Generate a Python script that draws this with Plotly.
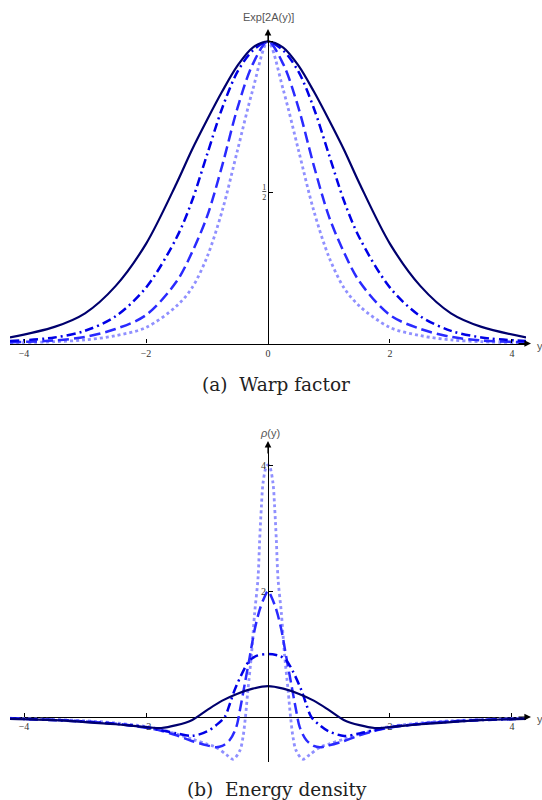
import plotly.graph_objects as go

# ---- (a) warp factor Exp[2A(y)] ----
y_warp = [-4.23, -3.5, -3, -2.5, -2, -1.5, -1.25, -1, -0.75, -0.5, -0.25, 0,
          0.25, 0.5, 0.75, 1, 1.25, 1.5, 2, 2.5, 3, 3.5, 4.23]
warp_solid = [0.02, 0.055, 0.10, 0.19, 0.33, 0.53, 0.64, 0.74, 0.835, 0.92, 0.98, 1.0,
              0.98, 0.92, 0.835, 0.74, 0.64, 0.53, 0.33, 0.19, 0.10, 0.055, 0.02]
warp_dashdot = [0.008, 0.02, 0.042, 0.09, 0.185, 0.35, 0.47, 0.625, 0.78, 0.90, 0.97, 1.0,
                0.97, 0.90, 0.78, 0.625, 0.47, 0.35, 0.185, 0.09, 0.042, 0.02, 0.008]
warp_dash = [0.004, 0.01, 0.022, 0.048, 0.094, 0.205, 0.30, 0.42, 0.59, 0.78, 0.925, 1.0,
             0.925, 0.78, 0.59, 0.42, 0.30, 0.205, 0.094, 0.048, 0.022, 0.01, 0.004]
warp_dot = [0.002, 0.006, 0.012, 0.026, 0.053, 0.124, 0.183, 0.286, 0.44, 0.64, 0.84, 1.0,
            0.84, 0.64, 0.44, 0.286, 0.183, 0.124, 0.053, 0.026, 0.012, 0.006, 0.002]

# ---- (b) energy density rho(y) ----
y_rho_solid = [-4.23, -3.5, -3, -2.5, -2, -1.75, -1.5, -1.25, -1, -0.75, -0.5, -0.25, 0,
               0.25, 0.5, 0.75, 1, 1.25, 1.5, 1.75, 2, 2.5, 3, 3.5, 4.23]
rho_solid = [-0.03, -0.05, -0.08, -0.115, -0.16, -0.175, -0.13, -0.05, 0.11, 0.26, 0.37, 0.45, 0.49,
             0.45, 0.37, 0.26, 0.11, -0.05, -0.13, -0.175, -0.16, -0.115, -0.08, -0.05, -0.03]

y_rho_dashdot = [-4.23, -3.5, -3, -2.5, -2, -1.75, -1.5, -1.25, -1, -0.85, -0.71, -0.625, -0.55,
                 -0.4, -0.3, -0.19, 0, 0.19, 0.3, 0.4, 0.55, 0.625, 0.71, 0.85, 1, 1.25, 1.5,
                 1.75, 2, 2.5, 3, 3.5, 4.23]
rho_dashdot = [-0.025, -0.05, -0.075, -0.11, -0.16, -0.21, -0.26, -0.30, -0.23, -0.13, 0.0, 0.21, 0.42,
               0.74, 0.90, 0.97, 1.0, 0.97, 0.90, 0.74, 0.42, 0.21, 0.0, -0.13, -0.23, -0.30, -0.26,
               -0.21, -0.16, -0.11, -0.075, -0.05, -0.025]

y_rho_dash = [-4.23, -3.5, -3, -2.5, -2, -1.75, -1.5, -1.25, -1, -0.85, -0.75, -0.63, -0.52, -0.46,
              -0.38, -0.30, -0.22, -0.137, -0.055, 0, 0.055, 0.137, 0.22, 0.30, 0.38, 0.46, 0.52,
              0.63, 0.75, 0.85, 1, 1.25, 1.5, 1.75, 2, 2.5, 3, 3.5, 4.23]
rho_dash = [-0.025, -0.045, -0.07, -0.105, -0.17, -0.22, -0.29, -0.38, -0.45, -0.48, -0.46, -0.37,
            -0.16, 0.11, 0.53, 0.95, 1.38, 1.70, 1.91, 2.0, 1.91, 1.70, 1.38, 0.95, 0.53, 0.11, -0.16,
            -0.37, -0.46, -0.48, -0.45, -0.38, -0.29, -0.22, -0.17, -0.105, -0.07, -0.045, -0.025]

y_rho_dot = [-4.23, -3.5, -3, -2.5, -2, -1.75, -1.5, -1.25, -1, -0.85, -0.68, -0.57, -0.46, -0.41,
             -0.37, -0.33, -0.27, -0.22, -0.164, -0.137, -0.109, -0.082, -0.03, 0, 0.03, 0.082,
             0.109, 0.137, 0.164, 0.22, 0.27, 0.33, 0.37, 0.41, 0.46, 0.57, 0.68, 0.85, 1, 1.25,
             1.5, 1.75, 2, 2.5, 3, 3.5, 4.23]
rho_dot = [-0.02, -0.04, -0.06, -0.095, -0.15, -0.2, -0.27, -0.35, -0.43, -0.48, -0.60, -0.67, -0.53,
           -0.32, 0.0, 0.42, 1.0, 1.64, 2.2, 2.8, 3.33, 3.71, 3.97, 4.0, 3.97, 3.71, 3.33, 2.8, 2.2,
           1.64, 1.0, 0.42, 0.0, -0.32, -0.53, -0.67, -0.60, -0.48, -0.43, -0.35, -0.27, -0.2, -0.15,
           -0.095, -0.06, -0.04, -0.02]

x_ticks = [-4, -2, 0, 2, 4]

styles = [
    dict(color="#00006e", width=2.2, dash="solid"),
    dict(color="#0000e6", width=2.5, dash="9px,4px,2px,4px"),
    dict(color="#2a2aff", width=2.5, dash="11px,5px"),
    dict(color="#9090ff", width=2.8, dash="3px,3px"),
]

W, H = 542, 800
def py(px):  # pixel row -> paper y
    return 1 - px / H

fig = go.Figure()

for xs, vs, st in [(y_warp, warp_dot, styles[3]), (y_warp, warp_dash, styles[2]),
                   (y_warp, warp_dashdot, styles[1]), (y_warp, warp_solid, styles[0])]:
    fig.add_trace(go.Scatter(x=xs, y=vs, mode="lines", line=dict(shape="spline", smoothing=0.9, **st),
                             xaxis="x", yaxis="y", showlegend=False, hoverinfo="skip"))

for xs, vs, st in [(y_rho_dot, rho_dot, styles[3]), (y_rho_dash, rho_dash, styles[2]),
                   (y_rho_dashdot, rho_dashdot, styles[1]), (y_rho_solid, rho_solid, styles[0])]:
    fig.add_trace(go.Scatter(x=xs, y=vs, mode="lines", line=dict(shape="spline", smoothing=0.9, **st),
                             xaxis="x2", yaxis="y2", showlegend=False, hoverinfo="skip"))

xdom = [10 / W, 526 / W]
x0_paper = 268 / W
tickfont = dict(family="Liberation Serif, serif", size=10, color="#333")
common_x = dict(domain=xdom, range=[-4.23, 4.23], anchor="free", showgrid=False, zeroline=False,
                showline=True, linecolor="black", linewidth=1.2, ticks="inside", ticklen=4,
                tickcolor="black", tickvals=x_ticks, tickfont=tickfont)
common_y = dict(anchor="free", position=x0_paper, showgrid=False, zeroline=False, showline=True,
                linecolor="black", linewidth=1.2, ticks="inside", ticklen=4, tickcolor="black",
                tickfont=tickfont)

# panel (a): zero at px 343.5, 302 px per unit
ya_rng = [-0.006, 1.03]
ya_dom = [py(343.5 - ya_rng[0] * 302), py(343.5 - ya_rng[1] * 302)]
# panel (b): zero at px 717, 63 px per unit
yb_rng = [-0.72, 4.3]
yb_dom = [py(717 - yb_rng[0] * 63), py(717 - yb_rng[1] * 63)]

fig.update_layout(
    width=W, height=H, margin=dict(l=0, r=0, t=0, b=0),
    plot_bgcolor="white", paper_bgcolor="white",
    xaxis=dict(common_x, position=py(343.5), ticktext=["\u22124", "\u22122", "0", "2", "4"]),
    yaxis=dict(common_y, domain=ya_dom, range=ya_rng, tickvals=[0.5, 1],
               ticktext=["<span style='text-decoration:underline'>1</span><br>2", ""],
               tickfont=dict(family="Liberation Serif, serif", size=8, color="#333")),
    xaxis2=dict(common_x, position=py(717), ticktext=["\u22124", "\u22122", "", "2", "4"],
                layer="below traces"),
    yaxis2=dict(common_y, domain=yb_dom, range=yb_rng, tickvals=[2, 4], ticktext=["2", "4"]),
)

ann = []
# axis arrows
for tip_x, tip_y, ax, ay in [(531, 343.5, -14, 0), (268, 29, 0, 14), (531, 717, -14, 0), (268, 441, 0, 14)]:
    ann.append(dict(x=tip_x / W, y=py(tip_y), xref="paper", yref="paper", ax=ax, ay=ay, text="",
                    showarrow=True, arrowhead=2, arrowsize=1.1, arrowwidth=1.2, arrowcolor="black",
                    standoff=0, startstandoff=0))
lab = dict(family="Liberation Sans, Arial, sans-serif", size=11, color="#555")
cap = dict(family="DejaVu Serif, serif", size=18.5, color="#222")
ann += [
    dict(x=268 / W, y=py(17), text="Exp[2A(y)]", font=lab),
    dict(x=270 / W, y=py(433), text="<i>\u03c1</i>(y)", font=lab),
    dict(x=535 / W, y=py(346), text="y", font=lab, xanchor="left"),
    dict(x=535 / W, y=py(719), text="y", font=lab, xanchor="left"),
    dict(x=276 / W, y=py(384), text="(a)\u00a0\u00a0Warp factor", font=cap),
    dict(x=277 / W, y=py(789), text="(b)\u00a0\u00a0Energy density", font=cap),
]
for a in ann:
    a.setdefault("xref", "paper")
    a.setdefault("yref", "paper")
    a.setdefault("showarrow", False)
    if not a["showarrow"]:
        a.setdefault("xanchor", "center")
        a.setdefault("yanchor", "middle")
fig.update_layout(annotations=ann)

fig.write_html("out.html", config={"displayModeBar": False},
               post_script="document.body.style.margin='0';")
